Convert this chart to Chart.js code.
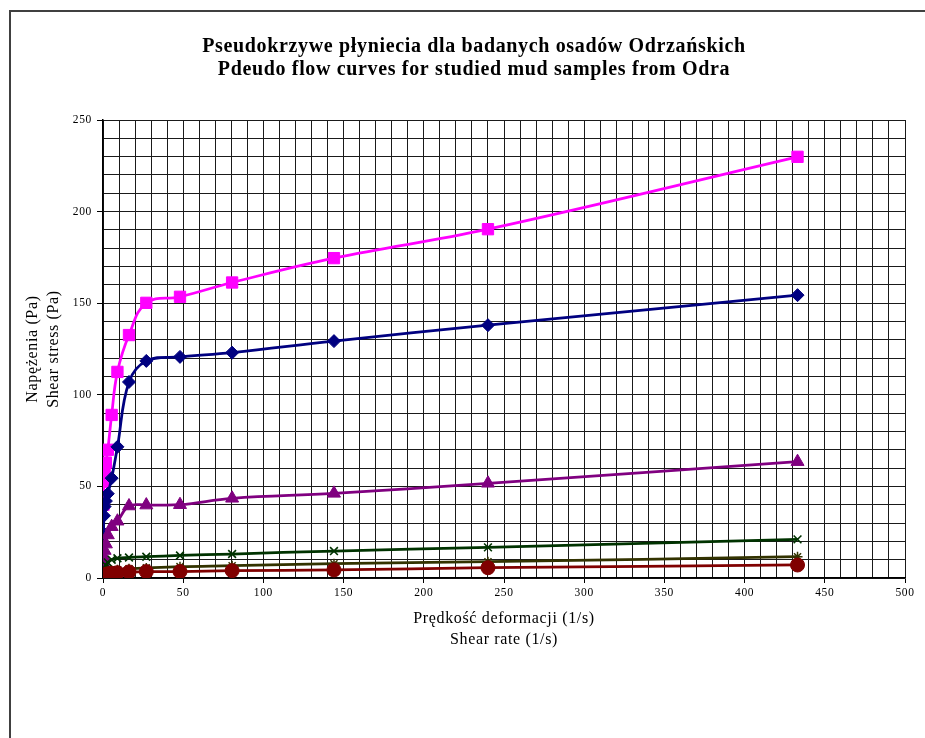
<!DOCTYPE html>
<html>
<head>
<meta charset="utf-8">
<script src="https://cdn.jsdelivr.net/npm/chart.js@4.4.0/dist/chart.umd.min.js"></script>
<style>
  html, body { margin: 0; padding: 0; background: #fff; }
</style>
</head>
<body>
<canvas id="chart" width="925" height="738"></canvas>
<script>
// shear rates (1/s)
const shearRate = [0.3, 0.6, 1, 1.8, 3, 5.4, 9, 16.2, 27, 48, 80.5, 144, 240, 433];

// shear stress (Pa) per sample
const magentaStress = [40, 52.5, 57, 63, 70, 89, 112.5, 132.6, 150.2, 153.5, 161.3, 174.6, 190.4, 229.9];
const navyStress = [24.5, 34, 39, 42, 46, 54.5, 71.6, 107, 118.5, 120.7, 123, 129.3, 138, 154.4];
const purpleStress = [8, 11.5, 15, 18.5, 23.5, 28, 31, 39.3, 39.8, 40, 43.5, 46.2, 51.7, 63.5];
const greenStress = [2, 3.5, 5, 7, 8.5, 10, 10.8, 11.2, 11.6, 12.3, 13.1, 14.7, 16.7, 21.1];
const oliveStress = [1.5, 2, 2.5, 3, 3.5, 4, 4.5, 5, 5.5, 6.2, 6.7, 7.8, 8.9, 11.6];
const redStress = [1, 1.3, 1.6, 2, 2.3, 2.6, 2.9, 3.3, 3.5, 3.5, 4.0, 4.4, 5.6, 7.1];

const xTicksMajor = 50;
const yTicksMajor = 50;

const serif = "'Liberation Serif', 'Times New Roman', serif";

function toPoints(values) {
  return values.map((v, i) => ({ x: shearRate[i], y: v }));
}

function series(values, color, style, radius, borderW) {
  return {
    data: toPoints(values),
    borderColor: color,
    backgroundColor: color,
    borderWidth: 2.75,
    pointStyle: style,
    pointRadius: radius,
    pointBorderColor: color,
    pointBackgroundColor: color,
    pointBorderWidth: borderW || 1,
    tension: 0.4,
    fill: false
  };
}

// white background + outer frame, and the slightly spaced-out lettering
const frame = {
  id: "frame",
  beforeLayout(chart) {
    chart.ctx.letterSpacing = "0.65px";
  },
  beforeDraw(chart) {
    const ctx = chart.ctx;
    ctx.save();
    ctx.fillStyle = "#fff";
    ctx.fillRect(0, 0, chart.width, chart.height);
    ctx.strokeStyle = "#404040";
    ctx.lineWidth = 2;
    ctx.strokeRect(10, 11, 2000, 2000);
    ctx.restore();
  }
};

const majorTick = (step) => (c) => (c.tick && c.tick.value % step === 0 ? "#000" : "rgba(0,0,0,0)");

new Chart(document.getElementById("chart"), {
  type: "line",
  data: {
    datasets: [
      series(redStress, "#800000", "circle", 7),
      series(oliveStress, "#333300", "star", 5, 1.5),
      series(greenStress, "#003300", "crossRot", 5.5, 1.6),
      series(purpleStress, "#800080", "triangle", 7.5),
      series(navyStress, "#000080", "rectRot", 6.5),
      series(magentaStress, "#FF00FF", "rect", 8)
    ]
  },
  options: {
    responsive: false,
    animation: false,
    // left padding is wider so the title sits a bit right of the canvas middle
    layout: { padding: { left: 43, right: 20, top: 0, bottom: 0 } },
    plugins: {
      legend: { display: false },
      tooltip: { enabled: false },
      title: {
        display: true,
        text: [
          "Pseudokrzywe płyniecia dla badanych osadów Odrzańskich",
          "Pdeudo flow curves for studied mud samples from Odra"
        ],
        color: "#000",
        font: { family: serif, size: 20, weight: "bold", lineHeight: 1.15 },
        padding: { top: 35.5, bottom: 38.5 }
      }
    },
    scales: {
      x: {
        type: "linear",
        min: 0,
        max: 500,
        afterFit(scale) { scale.height = 160; },
        ticks: {
          stepSize: 10,
          autoSkip: false,
          maxRotation: 0,
          padding: 3,
          color: "#000",
          font: { family: serif, size: 11.5 },
          callback: (v) => (v % xTicksMajor === 0 ? v : "")
        },
        grid: { color: "#1a1a1a", lineWidth: 1, tickLength: 5, tickColor: majorTick(xTicksMajor) },
        border: { color: "#000", width: 1.5 },
        title: {
          display: true,
          text: ["Prędkość deformacji (1/s)", "Shear rate (1/s)"],
          color: "#000",
          font: { family: serif, size: 16, lineHeight: 1.3 },
          padding: { top: 0, bottom: 88 }
        }
      },
      y: {
        min: 0,
        max: 250,
        afterFit(scale) { scale.width = 60; },
        ticks: {
          stepSize: 10,
          autoSkip: false,
          padding: 5,
          color: "#000",
          font: { family: serif, size: 11.5 },
          callback: (v) => (v % yTicksMajor === 0 ? v : "")
        },
        grid: { color: "#1a1a1a", lineWidth: 1, tickLength: 6, tickColor: majorTick(yTicksMajor) },
        border: { color: "#000", width: 1.5 },
        title: {
          display: true,
          text: ["Napężenia (Pa)", "Shear stress (Pa)"],
          color: "#000",
          font: { family: serif, size: 16, lineHeight: 1.3 },
          padding: { top: -20.4, bottom: 0 }
        }
      }
    }
  },
  plugins: [frame]
});
</script>
</body>
</html>
